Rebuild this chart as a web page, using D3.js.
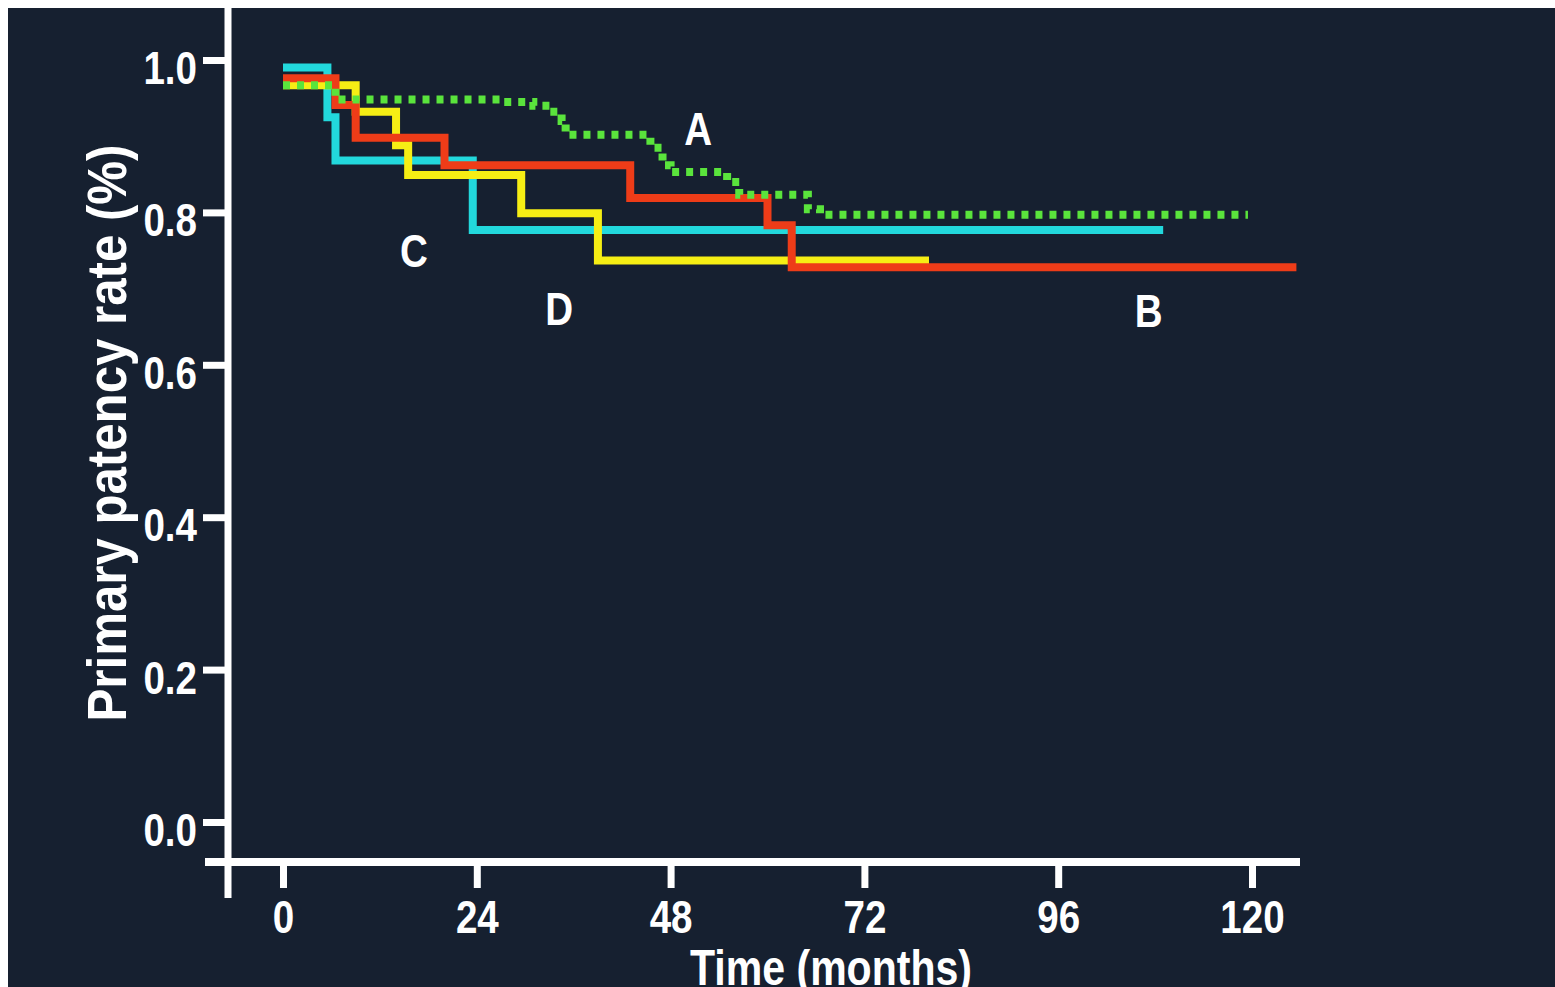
<!DOCTYPE html>
<html>
<head>
<meta charset="utf-8">
<script src="https://cdn.jsdelivr.net/npm/d3@7"></script>
<style>
  html, body { margin: 0; padding: 0; background: #ffffff; }
  svg { display: block; }
  .lbl { font-family: "Liberation Sans", Arial, sans-serif; font-weight: bold; fill: #ffffff; }
</style>
</head>
<body>
<div id="chart"></div>
<script>
// Kaplan-Meier style primary patency curves, four groups

// tick labels
var xTicks = [0, 24, 48, 72, 96, 120];
var yTicks = [0.0, 0.2, 0.4, 0.6, 0.8, 1.0];

// group A (green dotted)
var timeA = [0, 6.5, 27, 31, 33, 34.5, 35, 45.5, 47, 48, 55, 56.5, 65, 66.5, 119.5];
var survA = [0.967, 0.948, 0.945, 0.940, 0.932, 0.920, 0.902, 0.885, 0.862, 0.853, 0.840, 0.823, 0.804, 0.797, 0.797];

// group B (red)
var timeB = [0, 6.5, 9, 20, 43, 60, 63, 125.5];
var survB = [0.976, 0.941, 0.898, 0.862, 0.819, 0.783, 0.728, 0.728];

// group C (cyan)
var timeC = [0, 5.5, 6.5, 23.5, 109];
var survC = [0.990, 0.925, 0.868, 0.777, 0.777];

// group D (yellow)
var timeD = [0, 9, 14, 15.5, 29.5, 39, 80];
var survD = [0.967, 0.932, 0.888, 0.849, 0.799, 0.737, 0.737];

// curve labels (placed in data units)
var labelNames = ["A", "B", "C", "D"];
var labelTime = [51.4, 107.2, 16.2, 34.2];
var labelSurv = [0.911, 0.672, 0.751, 0.675];

var W = 1555, H = 987;

var svg = d3.select("#chart")
    .append("svg")
    .attr("width", W)
    .attr("height", H);

// squeeze text horizontally (no narrow font installed)
function condense(sel, ratio) {
    sel.each(function () {
        var w = this.getComputedTextLength();
        d3.select(this)
            .attr("textLength", w * ratio)
            .attr("lengthAdjust", "spacingAndGlyphs");
    });
}

// dark panel with thin white border top/left
svg.append("rect")
    .attr("x", 8).attr("y", 8)
    .attr("width", W - 8).attr("height", H - 8)
    .attr("fill", "#162030");

var xScale = d3.scaleLinear().domain([0, 120]).range([283, 1252]);
var yScale = d3.scaleLinear().domain([0, 1]).range([822, 60]);

var axisX = 228;   // y axis line position
var axisY = 862;   // x axis line position

// axis lines (extended like base graphics)
svg.append("line")
    .attr("x1", axisX).attr("x2", axisX)
    .attr("y1", 8).attr("y2", 898)
    .attr("stroke", "#ffffff").attr("stroke-width", 7);

svg.append("line")
    .attr("x1", 205).attr("x2", 1300)
    .attr("y1", axisY).attr("y2", axisY)
    .attr("stroke", "#ffffff").attr("stroke-width", 8);

// y axis ticks
var yAxis = d3.axisLeft(yScale)
    .tickValues(yTicks)
    .tickSize(22)
    .tickPadding(6)
    .tickFormat(d3.format(".1f"));

var gy = svg.append("g")
    .attr("transform", "translate(" + (axisX - 3) + ",0)")
    .call(yAxis);
gy.select(".domain").remove();
gy.selectAll(".tick line").attr("stroke", "#ffffff").attr("stroke-width", 7);
gy.selectAll(".tick text")
    .attr("class", "lbl")
    .attr("font-size", 47)
    .attr("dy", "0.5em")
    .attr("fill", "#ffffff")
    .call(condense, 0.82);

// x axis ticks
var xAxis = d3.axisBottom(xScale)
    .tickValues(xTicks)
    .tickSize(22)
    .tickPadding(12)
    .tickFormat(d3.format("d"));

var gx = svg.append("g")
    .attr("transform", "translate(0," + (axisY + 4) + ")")
    .call(xAxis);
gx.select(".domain").remove();
gx.selectAll(".tick line").attr("stroke", "#ffffff").attr("stroke-width", 7);
gx.selectAll(".tick text")
    .attr("class", "lbl")
    .attr("font-size", 47)
    .attr("fill", "#ffffff")
    .call(condense, 0.82);

// axis titles
svg.append("text")
    .attr("class", "lbl")
    .attr("transform", "translate(126,433) rotate(-90)")
    .attr("text-anchor", "middle")
    .attr("font-size", 56)
    .text("Primary patency rate (%)")
    .attr("textLength", 577)
    .attr("lengthAdjust", "spacingAndGlyphs");

svg.append("text")
    .attr("class", "lbl")
    .attr("x", 831)
    .attr("y", 985)
    .attr("text-anchor", "middle")
    .attr("font-size", 50)
    .text("Time (months)")
    .attr("textLength", 282)
    .attr("lengthAdjust", "spacingAndGlyphs");

// curves
function toPoints(times, vals) {
    return times.map(function (t, i) { return [t, vals[i]]; });
}

var line = d3.line()
    .x(function (d) { return xScale(d[0]); })
    .y(function (d) { return yScale(d[1]); })
    .curve(d3.curveStepAfter);

var curves = [
    { pts: toPoints(timeC, survC), color: "#22d8dc", dash: null },
    { pts: toPoints(timeD, survD), color: "#f6ee14", dash: null },
    { pts: toPoints(timeB, survB), color: "#ee3c18", dash: null },
    { pts: toPoints(timeA, survA), color: "#5ae43c", dash: "7,7" }
];

svg.selectAll("path.km")
    .data(curves)
    .enter()
    .append("path")
    .attr("class", "km")
    .attr("d", function (d) { return line(d.pts); })
    .attr("fill", "none")
    .attr("stroke", function (d) { return d.color; })
    .attr("stroke-width", 8)
    .attr("stroke-dasharray", function (d) { return d.dash; });

// curve labels
svg.selectAll("text.curveLbl")
    .data(labelNames)
    .enter()
    .append("text")
    .attr("class", "lbl curveLbl")
    .attr("x", function (d, i) { return xScale(labelTime[i]); })
    .attr("y", function (d, i) { return yScale(labelSurv[i]); })
    .attr("dy", "0.36em")
    .attr("text-anchor", "middle")
    .attr("font-size", 47)
    .text(function (d) { return d; })
    .call(condense, 0.82);
</script>
</body>
</html>
